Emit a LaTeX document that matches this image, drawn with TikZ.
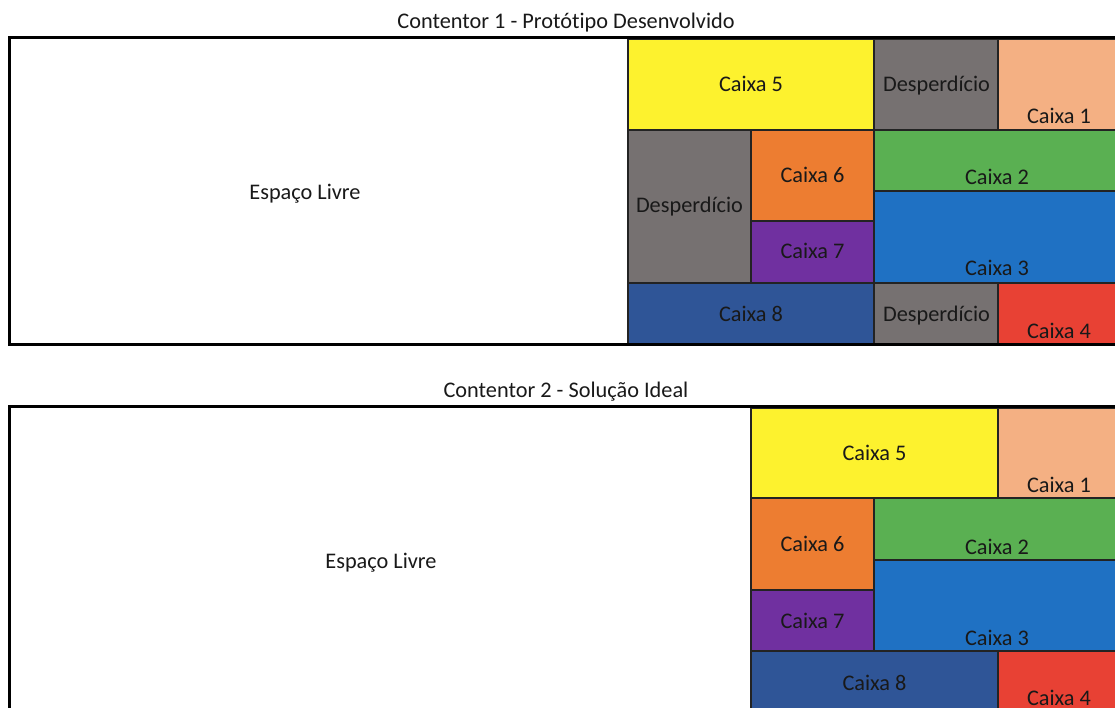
\documentclass[tikz,border=0pt]{standalone}
\usepackage{fontspec}
\setmainfont{Carlito}[Ligatures=NoCommon]
\definecolor{cyellow}{RGB}{253,242,46}
\definecolor{cgray}{RGB}{118,113,113}
\definecolor{cpeach}{RGB}{244,176,131}
\definecolor{corange}{RGB}{237,125,49}
\definecolor{cgreen}{RGB}{90,176,82}
\definecolor{cblue}{RGB}{31,113,195}
\definecolor{cpurple}{RGB}{112,48,160}
\definecolor{cnavy}{RGB}{47,85,151}
\definecolor{cred}{RGB}{232,65,52}
\definecolor{ctext}{RGB}{25,25,25}
\definecolor{cline}{RGB}{35,35,35}
\begin{document}
\begin{tikzpicture}[x=1pt,y=-1pt,
  cell/.style={draw=cline, line width=1.3pt},
  container/.style={draw=black, line width=3pt},
  lbl/.style={inner sep=0pt, text height=15pt, text depth=0pt, text=ctext,
              font=\fontsize{22.3}{26}\selectfont}]
\useasboundingbox (0,0) rectangle (1115,708);
\clip (0,0) rectangle (1115,708);
\fill[white] (0,0) rectangle (1115,708);

% ---------- Contentor 1 ----------
\node[lbl] (t1) at (566,21.5) {Contentor 1 - Protótipo Desenvolvido};
\path[cell, fill=cyellow] (628,39) rectangle (874,130);
\node[lbl] (a5) at (751,84.5) {Caixa 5};
\path[cell, fill=cgray] (874,39) rectangle (998,130);
\node[lbl] (ad1) at (936.5,84.5) {Desperdício};
\path[cell, fill=cpeach] (998,39) rectangle (1120,130);
\node[lbl] (a1) at (1059,116.5) {Caixa 1};
\path[cell, fill=cgray] (628,130) rectangle (751,283);
\node[lbl] (ad2) at (689.5,205.5) {Desperdício};
\path[cell, fill=corange] (751,130) rectangle (874,221);
\node[lbl] (a6) at (812.5,175.5) {Caixa 6};
\path[cell, fill=cpurple] (751,221) rectangle (874,283);
\node[lbl] (a7) at (812.5,251) {Caixa 7};
\path[cell, fill=cgreen] (874,130) rectangle (1120,191);
\node[lbl] (a2) at (997,177.5) {Caixa 2};
\path[cell, fill=cblue] (874,191) rectangle (1120,283);
\node[lbl] (a3) at (997,268.5) {Caixa 3};
\path[cell, fill=cnavy] (628,283) rectangle (874,344);
\node[lbl] (a8) at (751,314) {Caixa 8};
\path[cell, fill=cgray] (874,283) rectangle (998,344);
\node[lbl] (ad3) at (936.5,314) {Desperdício};
\path[cell, fill=cred] (998,283) rectangle (1120,344);
\node[lbl] (a4) at (1059,330.5) {Caixa 4};
\node[lbl] (free1) at (305,192.5) {Espaço Livre};
\path[container] (9.5,38) rectangle (1126,344.5);

% ---------- Contentor 2 ----------
\node[lbl] (t2) at (566,389.5) {Contentor 2 - Solução Ideal};
\path[cell, fill=cyellow] (751,408) rectangle (998,498);
\node[lbl] (b5) at (874.5,452.5) {Caixa 5};
\path[cell, fill=cpeach] (998,408) rectangle (1120,498);
\node[lbl] (b1) at (1059,484.5) {Caixa 1};
\path[cell, fill=corange] (751,498) rectangle (874,590);
\node[lbl] (b6) at (812.5,544) {Caixa 6};
\path[cell, fill=cgreen] (874,498) rectangle (1120,560);
\node[lbl] (b2) at (997,546.5) {Caixa 2};
\path[cell, fill=cpurple] (751,590) rectangle (874,651);
\node[lbl] (b7) at (812.5,620.5) {Caixa 7};
\path[cell, fill=cblue] (874,560) rectangle (1120,651);
\node[lbl] (b3) at (997,637.5) {Caixa 3};
\path[cell, fill=cnavy] (751,651) rectangle (998,713);
\node[lbl] (b8) at (874.5,682.5) {Caixa 8};
\path[cell, fill=cred] (998,651) rectangle (1120,713);
\node[lbl] (b4) at (1059,698) {Caixa 4};
\node[lbl] (free2) at (381,560.5) {Espaço Livre};
\path[container] (9.5,406) rectangle (1126,713.5);
\end{tikzpicture}
\end{document}
